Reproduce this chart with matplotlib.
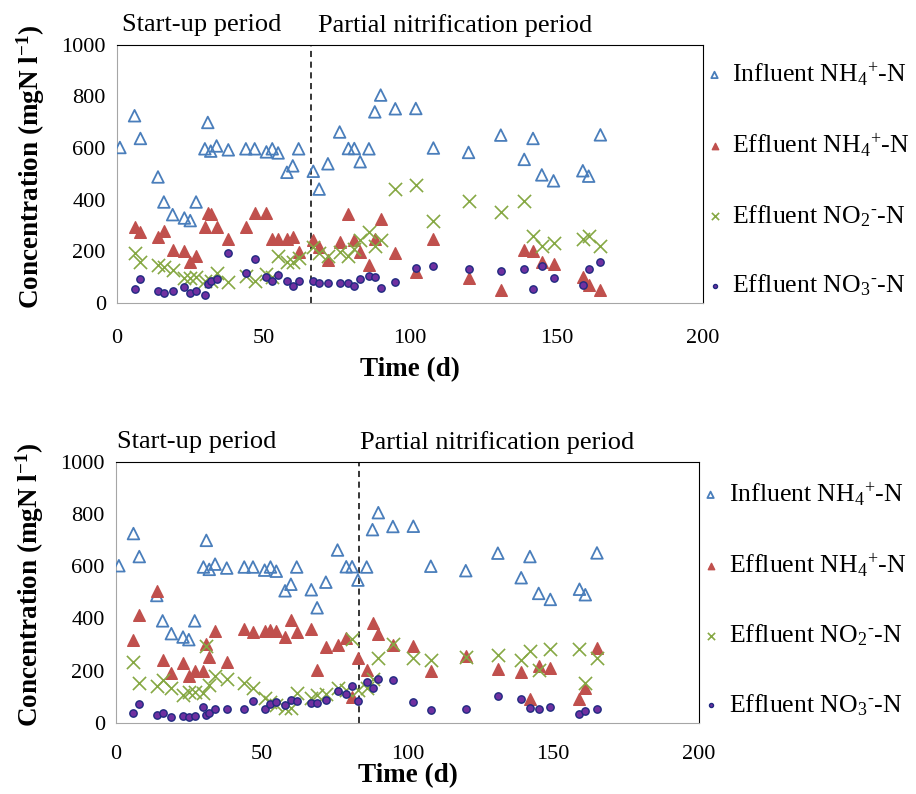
import numpy as np
import matplotlib
matplotlib.use("Agg")
import matplotlib.pyplot as plt
import matplotlib.transforms as mtrans

plt.rcParams['font.family'] = 'Liberation Serif'
plt.rcParams['mathtext.fontset'] = 'custom'
plt.rcParams['mathtext.rm'] = 'Liberation Serif'
plt.rcParams['mathtext.it'] = 'Liberation Serif:italic'
plt.rcParams['mathtext.bf'] = 'Liberation Serif:bold'

nan = np.nan

# sampling days (same for both panels)
days = [1, 6, 8, 14, 16, 19, 23, 25, 27, 30, 31, 32, 34, 38, 44, 47, 51, 53, 55, 58, 60, 62,
        67, 69, 72, 76, 79, 81, 83, 86, 88, 90, 95, 102, 108, 120, 131, 139, 142, 145, 149,
        159, 161, 165]

influent_nh4 = [602, 725, 637, 488, 391, 342, 329, 319, 391, 597, 699, 588, 608, 593, 597, 597,
                585, 597, 581, 506, 531, 597, 510, 441, 539, 662, 598, 598, 547, 597, 740, 805,
                752, 753, 600, 583, 650, 556, 637, 496, 473, 512, 491, 651]

# top panel
eff_nh4_a = [nan, 296, 273, 257, 278, 207, 200, 158, 180, 293, 348, 344, 293, 247, 296, 349,
             349, 247, 247, 247, 257, 199, 244, 216, 167, 236, 344, 245, 198, 149, 247, 324,
             195, 120, 248, 98, 49, 205, 203, 158, 150, 102, 70, 49]
eff_no2_a = [nan, 195, 160, 147, 138, 128, 96, 96, 102, 86, nan, 86, 115, 80, 106, 86,
             112, 102, 180, 158, 158, 176, 218, 195, 182, 199, 183, 208, 244, 276, 222, 244,
             443, 455, 317, 395, 352, 395, 261, 222, 231, 248, 261, 221]
eff_no3_a = [nan, 53, 94, 45, 40, 47, 63, 40, 45, 30, 72, 86, 94, 194, 116, 171,
             102, 86, 110, 84, 64, 87, 84, 76, 78, 76, 76, 66, 93, 105, 102, 57,
             80, 136, 143, 132, 123, 133, 53, 143, 96, 71, 132, 158]

# bottom panel
eff_nh4_b = [nan, 316, 415, 506, 241, 190, 231, 180, 200, 200, 302, 251, 353, 233, 361, 347,
             352, 356, 352, 330, 393, 347, 358, 203, 292, 300, 325, 100, 248, 203, 384, 341,
             300, 296, 199, 256, 208, 194, 91, 219, 209, 93, 133, 288]
eff_no2_b = [nan, 233, 152, 143, 165, 133, 107, 120, 120, 113, 296, 145, 180, 170, 152, 133,
             97, 82, 69, 56, 56, 114, 97, 107, 110, 133, 127, 320, 127, 133, 168, 248,
             302, 248, 241, 252, 260, 241, 277, 203, 282, 282, 152, 248]
eff_no3_b = [nan, 37, 71, 29, 37, 24, 27, 23, 28, 62, 32, 38, 55, 55, 55, 85,
             55, 74, 80, 68, 89, 83, 78, 78, 89, 124, 110, 143, 85, 156, 135, 170,
             166, 79, 50, 55, 105, 93, 57, 52, 61, 36, 46, 55]

switch_day = [66.2, 83.4]
labels = [r'Influent NH$_4$$^{+}$-N', r'Effluent NH$_4$$^{+}$-N',
          r'Effluent NO$_2$$^{\text{-}}$-N', r'Effluent NO$_3$$^{\text{-}}$-N']

fig = plt.figure(figsize=(9.16, 7.94), dpi=100)
ax1 = fig.add_axes([0.1277, 0.6184, 0.6397, 0.3253])
ax2 = fig.add_axes([0.1266, 0.0894, 0.6365, 0.3291])


def draw(ax, nh4, no2, no3, sw, start_x, part_x, xpad, lpad, leg_y):
    ax.scatter(days, influent_nh4, marker='^', s=70, facecolors='none',
               edgecolors='#4a7ebb', linewidths=1.3, label=labels[0], zorder=3)
    ax.scatter(days, nh4, marker='^', s=70, color='#c0504d', label=labels[1], zorder=3)
    ax.scatter(days, no2, marker='x', s=90, color='#86a844', linewidths=1.2,
               label=labels[2], zorder=3)
    ax.scatter(days, no3, marker='o', s=28, facecolors='#7030a0', edgecolors='#1f2a80',
               linewidths=1.0, label=labels[3], zorder=4)
    ax.axvline(sw, color='black', ls=(0, (4, 3)), lw=1.1)
    ax.set_xlim(0, 200)
    ax.set_ylim(0, 1000)
    ax.set_xticks([0, 50, 100, 150, 200])
    ax.set_yticks([0, 200, 400, 600, 800, 1000])
    ax.tick_params(length=0, labelsize=16)
    ax.tick_params(axis='y', pad=8)
    ax.tick_params(axis='x', pad=xpad)
    for s in ['left', 'bottom']:
        ax.spines[s].set_color('#a6a6a6')
    for s in ['top', 'right']:
        ax.spines[s].set_color('black')
    ax.set_xlabel('Time (d)', fontsize=19.5, fontweight='bold', labelpad=lpad)
    ax.set_ylabel(r'Concentration (mgN l$^{\mathbf{-1}}$)', fontsize=19.5, fontweight='bold')
    ax.yaxis.set_label_coords(-0.12, 0.528)
    tr = mtrans.blended_transform_factory(ax.transData, ax.transAxes)
    ax.text(start_x, 1.075, 'Start-up period', transform=tr, fontsize=19, va='center')
    ax.text(part_x, 1.075, 'Partial nitrification period', transform=tr, fontsize=19,
            va='center')
    ax.legend(loc='center left', bbox_to_anchor=(1.0, leg_y), frameon=False, fontsize=18.5,
              markerscale=0.55, handletextpad=0.25, labelspacing=1.7, borderaxespad=0.0,
              borderpad=0.0, handlelength=0.9)


draw(ax1, eff_nh4_a, eff_no2_a, eff_no3_a, switch_day[0], 1.7, 68.6, 19, 6, 0.48)
draw(ax2, eff_nh4_b, eff_no2_b, eff_no3_b, switch_day[1], 0.3, 83.7, 16, -1, 0.475)

fig.savefig('out.png', dpi=100)
